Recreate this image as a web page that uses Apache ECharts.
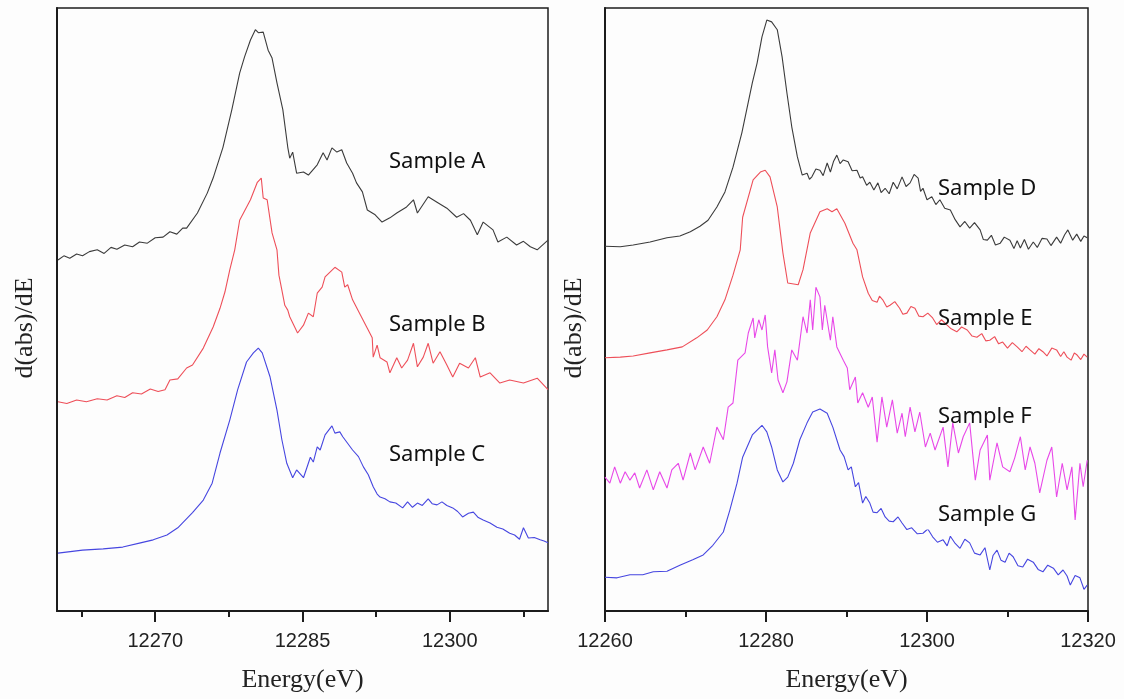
<!DOCTYPE html>
<html>
<head>
<meta charset="utf-8">
<script src="https://cdn.jsdelivr.net/npm/echarts@6/dist/echarts.min.js"></script>
<style>
html,body{margin:0;padding:0;background:#fdfdfd;}
#chart{width:1124px;height:699px;}
</style>
</head>
<body>
<div id="chart"></div>
<script>
// ---- Left panel (Samples A, B, C) ----
var energyA = [12260.1,12260.7,12261.3,12262.0,12262.6,12263.3,12264.1,12264.8,12265.5,12266.1,12266.9,12267.7,12268.4,12269.2,12270.0,12270.8,12271.5,12272.2,12272.8,12273.2,12274.3,12275.3,12275.9,12276.9,12277.8,12278.6,12279.1,12279.7,12280.2,12280.5,12281.0,12281.5,12281.9,12282.4,12283.0,12283.5,12283.7,12284.0,12284.4,12285.1,12285.6,12286.5,12287.1,12287.5,12288.0,12288.5,12289.0,12289.5,12290.1,12290.5,12291.1,12291.6,12292.4,12293.1,12293.9,12294.6,12295.6,12296.3,12296.7,12297.8,12298.7,12299.7,12300.7,12301.4,12302.1,12302.8,12303.4,12304.4,12304.9,12305.8,12306.8,12307.5,12308.2,12308.9,12310.0];
var sampleA = [58.2,58.9,58.5,59.2,58.9,59.6,59.9,59.3,60.3,60.0,60.7,60.4,61.2,61.0,61.9,62.0,62.9,62.5,63.5,63.5,66.0,69.3,71.8,76.9,83.1,89.2,91.9,94.7,96.4,95.9,96.0,93.0,91.7,87.6,83.1,76.9,75.1,76.1,72.6,72.8,72.3,74.0,76.0,74.8,76.8,76.1,76.5,74.3,72.6,71.0,69.5,66.5,65.7,64.5,65.2,66.0,67.0,68.2,66.0,68.7,67.8,66.8,65.3,65.9,64.8,62.4,64.5,63.2,61.2,62.0,60.7,61.3,60.4,59.9,61.5];

var energyB = [12260.1,12261.0,12262.0,12263.0,12264.1,12265.1,12266.1,12266.9,12267.7,12268.6,12269.5,12270.3,12271.0,12271.5,12272.3,12273.2,12273.8,12274.9,12275.9,12276.6,12277.1,12277.6,12278.1,12278.6,12279.7,12280.4,12280.8,12281.0,12281.4,12281.9,12282.4,12282.6,12282.9,12283.2,12283.5,12283.7,12284.5,12285.1,12285.6,12286.1,12286.5,12287.0,12287.3,12287.8,12288.3,12289.0,12289.3,12289.6,12290.1,12290.9,12291.6,12292.1,12292.2,12292.6,12292.9,12293.6,12293.9,12294.6,12295.1,12295.7,12296.3,12296.7,12297.3,12297.8,12298.3,12299.0,12299.7,12300.3,12301.0,12301.9,12302.6,12303.1,12304.1,12305.1,12306.1,12307.5,12308.9,12310.0];
var sampleB = [34.7,34.4,35.0,34.7,35.2,35.0,35.7,35.4,36.2,36.0,36.8,36.4,36.7,38.3,38.5,40.3,40.8,43.6,47.1,50.2,52.9,56.6,59.9,64.8,68.2,71.1,71.8,68.5,68.2,62.7,59.9,55.7,53.2,50.7,49.9,48.8,46.1,47.4,49.4,48.8,52.7,53.7,55.4,56.2,57.0,56.2,53.7,54.1,51.6,49.1,46.9,45.3,42.1,44.1,42.0,41.3,39.5,42.0,40.3,41.6,44.4,40.5,42.1,44.4,41.1,43.0,40.8,38.8,41.1,40.3,42.0,38.8,39.5,37.8,38.3,37.8,38.6,36.7];

var energyC = [12260.1,12262.6,12264.7,12266.7,12268.5,12269.8,12271.2,12272.3,12273.8,12274.9,12275.8,12276.6,12277.6,12278.4,12279.3,12280.0,12280.5,12280.9,12281.7,12282.4,12282.9,12283.4,12284.0,12284.4,12285.1,12285.8,12286.1,12286.5,12286.8,12287.3,12288.0,12288.3,12288.8,12289.1,12290.1,12290.7,12291.2,12291.7,12292.2,12292.6,12292.9,12293.4,12293.9,12294.5,12295.2,12295.7,12296.2,12296.7,12297.2,12297.8,12298.2,12298.7,12299.2,12299.7,12300.3,12300.8,12301.3,12301.9,12302.4,12302.9,12303.4,12304.1,12304.8,12305.4,12306.1,12306.6,12307.1,12307.5,12308.0,12308.6,12309.2,12309.6,12310.0];
var sampleC = [9.6,10.1,10.3,10.6,11.3,11.8,12.6,13.8,16.3,18.4,21.2,26.2,31.7,36.7,41.3,42.8,43.6,42.8,38.8,33.3,28.4,24.5,22.1,23.4,22.1,25.5,24.7,27.2,26.7,29.2,30.7,29.5,29.7,28.9,26.7,25.6,23.9,22.6,20.6,19.4,18.9,18.6,18.1,17.9,17.1,18.1,17.2,17.9,17.5,18.6,17.8,17.6,18.1,17.5,17.1,16.5,15.6,16.2,16.4,15.5,15.1,14.6,13.9,13.6,12.9,12.6,11.9,13.8,12.1,12.2,11.8,11.6,11.3];

// ---- Right panel (Samples D, E, F, G) ----
var energyD = [12260.0,12261.9,12263.5,12265.6,12267.7,12269.3,12270.6,12271.8,12272.8,12273.9,12274.9,12275.9,12277.0,12278.3,12278.9,12279.5,12280.1,12280.7,12281.4,12282.0,12282.6,12283.2,12283.9,12284.5,12285.1,12285.4,12285.7,12286.2,12286.7,12287.1,12287.6,12288.0,12288.4,12288.8,12289.2,12289.6,12290.2,12290.7,12291.3,12291.7,12292.0,12292.5,12292.9,12293.4,12293.9,12294.3,12294.8,12295.3,12295.8,12296.3,12296.9,12297.4,12297.9,12298.4,12298.9,12299.2,12299.5,12300.0,12300.6,12301.1,12301.6,12302.2,12302.9,12303.5,12304.1,12304.7,12305.3,12305.9,12306.6,12307.0,12307.5,12308.0,12308.5,12309.1,12309.6,12310.3,12310.8,12311.2,12311.6,12312.1,12312.6,12313.2,12313.7,12314.3,12314.9,12315.4,12316.1,12316.6,12317.1,12317.5,12318.1,12318.6,12319.1,12319.5,12319.9];
var sampleD = [60.5,60.4,60.7,61.2,61.9,62.2,62.9,63.8,64.8,67.0,69.5,73.6,79.3,87.6,90.9,95.2,98.0,97.7,96.4,91.9,85.9,80.3,75.3,72.3,72.6,71.6,72.0,73.3,73.1,72.2,74.3,72.8,74.6,75.6,74.2,74.8,74.5,73.0,73.1,71.8,72.0,70.6,71.1,69.8,71.0,69.4,70.1,69.2,71.1,70.0,72.0,70.4,71.0,72.4,71.8,69.6,70.1,68.2,68.7,67.4,68.2,66.8,66.5,64.9,63.7,64.6,63.5,64.4,63.2,61.6,61.5,62.3,60.7,61.0,62.0,61.5,60.1,61.4,60.2,61.6,60.0,61.2,60.3,61.8,61.7,60.6,62.0,61.0,62.4,63.2,61.5,62.5,61.3,62.2,61.9];

var energyE = [12260.0,12261.9,12263.5,12265.6,12267.7,12269.6,12271.4,12272.7,12273.9,12274.9,12275.9,12276.8,12277.1,12278.4,12279.3,12279.9,12280.5,12281.4,12282.1,12282.7,12284.0,12284.6,12285.5,12286.7,12287.6,12288.2,12288.8,12289.8,12290.8,12291.3,12292.0,12292.7,12293.2,12293.8,12294.1,12294.5,12295.0,12295.4,12296.0,12296.6,12297.0,12297.5,12298.0,12298.5,12299.0,12299.5,12300.1,12300.7,12301.2,12301.8,12302.5,12303.0,12303.7,12304.3,12305.0,12305.6,12306.2,12306.8,12307.3,12307.8,12308.4,12308.9,12309.4,12310.0,12310.6,12311.2,12311.8,12312.3,12312.8,12313.4,12313.9,12314.4,12314.9,12315.5,12316.1,12316.6,12317.0,12317.4,12317.9,12318.3,12318.6,12319.1,12319.5,12319.9];
var sampleE = [42.0,42.1,42.3,42.8,43.3,43.8,45.3,46.6,48.8,51.6,55.7,59.9,65.3,71.5,72.8,73.1,72.0,67.0,59.4,54.4,54.1,56.6,62.7,66.2,66.7,66.2,66.7,64.3,61.0,59.9,55.4,52.7,51.5,51.2,52.2,51.6,50.4,50.7,51.3,50.2,49.2,49.4,50.5,50.2,48.9,48.8,49.4,48.6,47.5,48.3,47.4,46.8,46.3,47.1,46.6,45.6,45.4,46.0,44.8,44.9,45.5,44.3,44.6,43.6,44.5,43.8,43.0,43.9,43.3,42.6,43.5,43.0,42.3,43.6,43.3,42.2,43.0,42.1,41.6,42.8,42.5,41.7,42.6,42.1];

var energyF = [12260.0,12260.6,12261.2,12261.9,12262.5,12263.1,12263.7,12264.3,12265.2,12266.0,12266.8,12267.7,12268.3,12269.1,12269.7,12270.6,12271.2,12272.2,12273.0,12273.9,12274.7,12275.3,12275.9,12276.5,12277.4,12277.8,12278.4,12278.6,12279.1,12279.5,12279.9,12280.2,12280.7,12281.1,12281.5,12282.1,12282.6,12283.2,12283.9,12284.6,12285.1,12285.5,12285.8,12286.2,12286.7,12287.0,12287.3,12288.0,12288.3,12288.8,12289.6,12290.1,12290.4,12291.1,12291.4,12292.0,12292.7,12293.2,12293.8,12294.4,12295.0,12295.7,12296.3,12296.9,12297.3,12297.9,12298.5,12299.1,12299.8,12300.4,12301.0,12302.0,12302.6,12303.2,12303.9,12304.5,12305.3,12306.0,12306.6,12307.5,12307.8,12308.7,12309.4,12310.3,12310.9,12311.6,12312.2,12312.8,12313.4,12314.0,12314.9,12315.5,12316.1,12316.8,12317.4,12318.0,12318.4,12319.0,12319.4,12319.9];
var sampleF = [22.2,21.2,23.9,21.2,23.1,21.7,22.9,20.4,23.4,20.1,23.1,20.4,23.4,24.5,21.7,26.2,23.4,27.2,24.5,30.5,28.4,33.8,34.5,41.6,42.8,46.1,48.6,45.3,48.3,46.6,49.1,43.8,39.5,43.3,38.3,36.2,38.0,43.3,41.6,48.8,46.1,51.6,46.6,53.7,52.1,46.6,50.7,44.9,48.8,43.8,41.6,40.3,36.7,38.8,34.5,36.2,33.8,35.5,28.0,35.5,30.5,35.0,29.5,32.8,28.9,33.8,29.7,33.0,27.2,29.5,26.7,30.5,23.9,31.2,26.2,28.9,31.2,21.7,26.7,29.2,21.7,27.9,23.9,23.1,25.4,28.9,23.4,27.2,24.5,19.6,25.0,27.2,18.9,24.5,20.1,23.9,15.1,24.5,20.6,25.0];

var energyG = [12260.0,12261.5,12263.1,12264.7,12266.0,12267.7,12269.3,12270.9,12272.2,12273.4,12274.7,12275.5,12276.4,12277.1,12278.3,12278.9,12279.5,12280.1,12280.7,12281.4,12282.1,12282.7,12283.4,12284.2,12285.1,12285.8,12286.7,12287.6,12288.3,12289.2,12289.7,12290.2,12290.6,12291.1,12291.5,12292.0,12292.4,12292.9,12293.3,12293.8,12294.3,12294.8,12295.3,12295.8,12296.4,12296.9,12297.5,12298.1,12298.8,12299.5,12300.1,12300.7,12301.3,12302.0,12302.5,12302.9,12303.5,12304.1,12304.7,12305.3,12305.9,12306.6,12307.2,12307.8,12308.2,12308.7,12309.2,12309.7,12310.2,12310.7,12311.3,12311.9,12312.5,12313.2,12313.8,12314.4,12315.0,12315.7,12316.3,12316.9,12317.4,12317.8,12318.4,12319.0,12319.5,12319.9];
var sampleG = [5.6,5.5,6.0,6.0,6.5,6.6,7.6,8.5,9.3,10.9,13.1,16.7,21.2,25.5,29.2,30.0,30.8,29.7,27.2,23.4,21.4,22.2,24.5,28.4,31.2,33.0,33.5,32.8,30.5,26.7,25.6,23.4,23.9,20.6,21.3,17.9,19.0,17.9,16.4,16.3,17.0,15.6,14.9,14.8,15.6,14.6,13.5,13.8,12.8,12.9,13.6,12.3,11.4,11.8,10.8,12.4,11.2,10.4,11.9,11.3,9.6,9.3,10.5,6.8,9.2,10.1,8.4,8.1,9.6,9.0,7.5,7.3,8.6,8.1,6.9,6.5,7.6,7.1,6.0,6.8,5.8,4.3,5.9,5.5,3.6,4.3];

// tick values and labels
var leftTicks = [12270, 12285, 12300];
var leftMinorTicks = [12262.5, 12277.5, 12292.5, 12307.5];
// evenly spaced positions (2.5 eV) spanning the left axis, used by the tick/label axes
var leftTickSlots = ['12260','12262.5','12265','12267.5','12270','12272.5','12275','12277.5','12280','12282.5','12285','12287.5','12290','12292.5','12295','12297.5','12300','12302.5','12305','12307.5','12310'];
var labelsLeft = ['Sample A', 'Sample B', 'Sample C'];
var labelsRight = ['Sample D', 'Sample E', 'Sample F', 'Sample G'];
var xTitle = 'Energy(eV)';
var yTitle = 'd(abs)/dE';

function pairs(xs, ys) { return xs.map(function (x, i) { return [x, ys[i]]; }); }

var chart = echarts.init(document.getElementById('chart'), null, {renderer: 'canvas'});

var axisCol = '#1c1c1c';
var nameFont = {fontFamily: 'Liberation Serif', fontSize: 26, color: '#222'};

var colors = {A: '#3b3b3b', B: '#ee4f59', C: '#4646e0', D: '#3b3b3b', E: '#ee4f59', F: '#e848e8', G: '#4646e0'};

function lineSeries(name, xs, ys, color, xi, yi) {
  return {
    name: name, type: 'line', data: pairs(xs, ys),
    xAxisIndex: xi, yAxisIndex: yi, showSymbol: false, symbol: 'none',
    lineStyle: {color: color, width: 1.1}, animation: false, z: 3
  };
}

function sampleLabel(t, x, y, bg) {
  var st = {text: t, x: x, y: y, font: '22px "Noto Sans"', fill: '#111', verticalAlign: 'middle', align: 'left'};
  if (bg) { st.backgroundColor = '#fdfdfd'; st.padding = [4, 4, 3, 24]; st.x = x - 24; }
  return {type: 'text', z: 100, style: st};
}
function yTitleText(x, y) {
  return {type: 'text', z: 100, x: x, y: y, rotation: Math.PI / 2,
    style: {text: yTitle, font: '26px "Liberation Serif"', fill: '#222', align: 'center', verticalAlign: 'middle'}};
}
function isIn(values) { return function (idx, v) { return values.indexOf(parseFloat(v)) >= 0; }; }

var option = {
  backgroundColor: '#fdfdfd',
  animation: false,
  grid: [
    {left: 57, top: 8, width: 491, height: 603, show: true, borderColor: axisCol, borderWidth: 1.5, backgroundColor: 'transparent'},
    {left: 605, top: 8, width: 483, height: 603, show: true, borderColor: axisCol, borderWidth: 1.5, backgroundColor: 'transparent'}
  ],
  xAxis: [
    {
      // left panel: axis line, labels and major ticks
      type: 'category', gridIndex: 0, position: 'bottom', boundaryGap: false,
      data: leftTickSlots.slice(),
      name: xTitle, nameLocation: 'middle', nameGap: 56, nameTextStyle: nameFont,
      axisLine: {show: true, onZero: false, lineStyle: {color: axisCol, width: 2}},
      axisTick: {show: true, inside: false, length: 11, interval: isIn(leftTicks), lineStyle: {color: axisCol, width: 2}},
      axisLabel: {show: true, margin: 20, interval: isIn(leftTicks), fontFamily: 'Liberation Sans', fontSize: 20, color: '#222', backgroundColor: 'transparent'},
      splitLine: {show: false}, z: 5
    },
    {
      type: 'value', gridIndex: 1, min: 12260, max: 12320, interval: 20,
      name: xTitle, nameLocation: 'middle', nameGap: 56, nameTextStyle: nameFont,
      axisLine: {show: true, onZero: false, lineStyle: {color: axisCol, width: 2}},
      axisTick: {show: true, inside: false, length: 11, lineStyle: {color: axisCol, width: 2}},
      minorTick: {show: true, splitNumber: 2, length: 6, lineStyle: {color: axisCol, width: 2}},
      axisLabel: {show: true, margin: 20, showMinLabel: true, showMaxLabel: true, fontFamily: 'Liberation Sans', fontSize: 20, color: '#222', backgroundColor: 'transparent', formatter: function (v) { return String(v); }},
      splitLine: {show: false}, minorSplitLine: {show: false}, z: 5
    },
    {
      // left panel: minor ticks
      type: 'category', gridIndex: 0, position: 'bottom', boundaryGap: false,
      data: leftTickSlots.slice(),
      axisLine: {show: false},
      axisTick: {show: true, inside: false, length: 6, interval: isIn(leftMinorTicks), lineStyle: {color: axisCol, width: 2}},
      axisLabel: {show: false}, splitLine: {show: false}
    },
    {
      // left panel: value scale for the data
      type: 'value', gridIndex: 0, min: 12260, max: 12310, position: 'bottom', show: false
    }
  ],
  yAxis: [
    {
      type: 'value', gridIndex: 0, min: 0, max: 100,
      axisLine: {show: true, onZero: false, lineStyle: {color: axisCol, width: 2}},
      axisTick: {show: false}, axisLabel: {show: false}, splitLine: {show: false}
    },
    {
      type: 'value', gridIndex: 1, min: 0, max: 100,
      axisLine: {show: true, onZero: false, lineStyle: {color: axisCol, width: 2}},
      axisTick: {show: false}, axisLabel: {show: false}, splitLine: {show: false}
    }
  ],
  series: [
    lineSeries('Sample A', energyA, sampleA, colors.A, 3, 0),
    lineSeries('Sample B', energyB, sampleB, colors.B, 3, 0),
    lineSeries('Sample C', energyC, sampleC, colors.C, 3, 0),
    lineSeries('Sample D', energyD, sampleD, colors.D, 1, 1),
    lineSeries('Sample E', energyE, sampleE, colors.E, 1, 1),
    lineSeries('Sample F', energyF, sampleF, colors.F, 1, 1),
    lineSeries('Sample G', energyG, sampleG, colors.G, 1, 1)
  ],
  graphic: [
    sampleLabel(labelsLeft[0], 389, 162, false),
    sampleLabel(labelsLeft[1], 389, 325, false),
    sampleLabel(labelsLeft[2], 389, 455, false),
    sampleLabel(labelsRight[0], 938, 189, false),
    sampleLabel(labelsRight[1], 938, 319, false),
    sampleLabel(labelsRight[2], 938, 417, false),
    sampleLabel(labelsRight[3], 938, 515, true),
    yTitleText(25, 328),
    yTitleText(574, 328)
  ]
};
chart.setOption(option);
</script>
</body>
</html>
